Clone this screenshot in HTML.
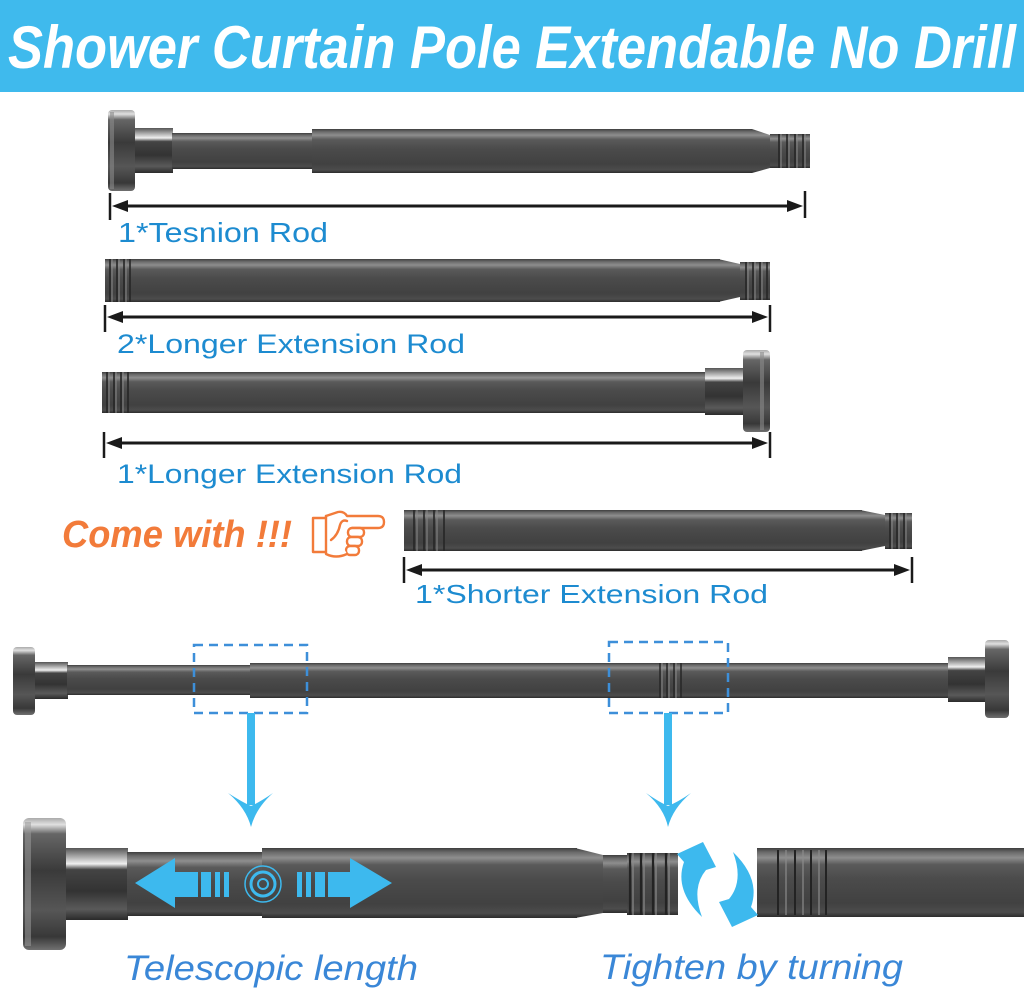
<!DOCTYPE html>
<html><head><meta charset="utf-8">
<style>
html,body{margin:0;padding:0;background:#fff;}
svg{display:block;}
</style></head>
<body>
<svg width="1024" height="991" viewBox="0 0 1024 991" xmlns="http://www.w3.org/2000/svg">
<defs>
<linearGradient id="tube" x1="0" y1="0" x2="0" y2="1">
<stop offset="0" stop-color="#3e3e3e"/>
<stop offset="0.06" stop-color="#6a6a6a"/>
<stop offset="0.14" stop-color="#8e8e8e"/>
<stop offset="0.24" stop-color="#5a5a5a"/>
<stop offset="0.45" stop-color="#4b4b4b"/>
<stop offset="0.8" stop-color="#414141"/>
<stop offset="0.93" stop-color="#4c4c4c"/>
<stop offset="1" stop-color="#2c2c2c"/>
</linearGradient>
<linearGradient id="cap" x1="0" y1="0" x2="0" y2="1">
<stop offset="0" stop-color="#aaa"/>
<stop offset="0.05" stop-color="#e0e0e0"/>
<stop offset="0.12" stop-color="#666"/>
<stop offset="0.4" stop-color="#3a3a3a"/>
<stop offset="0.7" stop-color="#565656"/>
<stop offset="0.9" stop-color="#383838"/>
<stop offset="1" stop-color="#707070"/>
</linearGradient>
<linearGradient id="collar" x1="0" y1="0" x2="0" y2="1">
<stop offset="0" stop-color="#555"/>
<stop offset="0.12" stop-color="#aaa"/>
<stop offset="0.22" stop-color="#efefef"/>
<stop offset="0.3" stop-color="#444"/>
<stop offset="0.6" stop-color="#333"/>
<stop offset="0.85" stop-color="#5a5a5a"/>
<stop offset="1" stop-color="#2a2a2a"/>
</linearGradient>
</defs>

<!-- Header -->
<rect x="0" y="0" width="1024" height="92" fill="#3fbaed"/>
<text x="8" y="68" font-family="Liberation Sans, sans-serif" font-weight="bold" font-style="italic" font-size="60" fill="#fff" textLength="1008" lengthAdjust="spacingAndGlyphs">Shower Curtain Pole Extendable No Drill</text>

<!-- Rod 1: tension rod -->
<rect x="135" y="128" width="38" height="45" fill="url(#collar)"/>
<rect x="172" y="133" width="142" height="36" fill="url(#tube)"/>
<rect x="312" y="129" width="440" height="44" fill="url(#tube)"/>
<polygon points="752,129 770,135 770,168 752,173" fill="url(#tube)"/>
<rect x="770" y="134" width="40" height="34" fill="url(#tube)"/>
<g stroke="#262626" stroke-width="1.6"><line x1="779" y1="134" x2="779" y2="168"/><line x1="787" y1="134" x2="787" y2="168"/><line x1="795" y1="134" x2="795" y2="168"/><line x1="803" y1="134" x2="803" y2="168"/></g>
<g stroke="#8a8a8a" stroke-width="1"><line x1="781" y1="134" x2="781" y2="168"/><line x1="789" y1="134" x2="789" y2="168"/><line x1="797" y1="134" x2="797" y2="168"/><line x1="805" y1="134" x2="805" y2="168"/></g>
<rect x="108" y="110" width="27" height="81" rx="4" fill="url(#cap)"/>
<rect x="110" y="112" width="4" height="77" fill="#8a8a8a" opacity="0.6"/>
<!-- dim 1 -->
<g fill="#1a1a1a" stroke="#1a1a1a">
<line x1="110" y1="193" x2="110" y2="220" stroke-width="2.5"/>
<line x1="805" y1="191" x2="805" y2="218" stroke-width="2.5"/>
<line x1="120" y1="206" x2="795" y2="206" stroke-width="3"/>
<polygon points="112,206 128,200 128,212" stroke="none"/>
<polygon points="803,206 787,200 787,212" stroke="none"/>
</g>
<text x="118" y="242" font-family="Liberation Sans, sans-serif" font-size="28" fill="#1d8bd0" textLength="210" lengthAdjust="spacingAndGlyphs">1*Tesnion Rod</text>

<!-- Rod 2 -->
<rect x="105" y="259" width="615" height="43" fill="url(#tube)"/>
<polygon points="718,259 740,264 740,297 718,302" fill="url(#tube)"/>
<rect x="740" y="262" width="30" height="38" fill="url(#tube)"/>
<g stroke="#262626" stroke-width="1.6"><line x1="110" y1="259" x2="110" y2="302"/><line x1="117" y1="259" x2="117" y2="302"/><line x1="124" y1="259" x2="124" y2="302"/><line x1="130" y1="259" x2="130" y2="302"/>
<line x1="746" y1="262" x2="746" y2="300"/><line x1="753" y1="262" x2="753" y2="300"/><line x1="760" y1="262" x2="760" y2="300"/><line x1="767" y1="262" x2="767" y2="300"/></g>
<g stroke="#8a8a8a" stroke-width="1"><line x1="112" y1="259" x2="112" y2="302"/><line x1="119" y1="259" x2="119" y2="302"/><line x1="126" y1="259" x2="126" y2="302"/>
<line x1="748" y1="262" x2="748" y2="300"/><line x1="755" y1="262" x2="755" y2="300"/><line x1="762" y1="262" x2="762" y2="300"/></g>
<g fill="#1a1a1a" stroke="#1a1a1a">
<line x1="105" y1="305" x2="105" y2="332" stroke-width="2.5"/>
<line x1="770" y1="305" x2="770" y2="332" stroke-width="2.5"/>
<line x1="115" y1="317" x2="760" y2="317" stroke-width="3"/>
<polygon points="107,317 123,311 123,323" stroke="none"/>
<polygon points="768,317 752,311 752,323" stroke="none"/>
</g>
<text x="117" y="353" font-family="Liberation Sans, sans-serif" font-size="27" fill="#1d8bd0" textLength="348" lengthAdjust="spacingAndGlyphs">2*Longer Extension Rod</text>

<!-- Rod 3 -->
<rect x="102" y="372" width="605" height="41" fill="url(#tube)"/>
<g stroke="#262626" stroke-width="1.6"><line x1="107" y1="372" x2="107" y2="413"/><line x1="114" y1="372" x2="114" y2="413"/><line x1="121" y1="372" x2="121" y2="413"/><line x1="128" y1="372" x2="128" y2="413"/></g>
<g stroke="#8a8a8a" stroke-width="1"><line x1="109" y1="372" x2="109" y2="413"/><line x1="116" y1="372" x2="116" y2="413"/><line x1="123" y1="372" x2="123" y2="413"/></g>
<rect x="705" y="368" width="39" height="47" fill="url(#collar)"/>
<rect x="743" y="350" width="27" height="82" rx="4" fill="url(#cap)"/>
<rect x="760" y="352" width="4" height="78" fill="#8a8a8a" opacity="0.6"/>
<g fill="#1a1a1a" stroke="#1a1a1a">
<line x1="104" y1="432" x2="104" y2="458" stroke-width="2.5"/>
<line x1="770" y1="432" x2="770" y2="458" stroke-width="2.5"/>
<line x1="114" y1="443" x2="760" y2="443" stroke-width="3"/>
<polygon points="106,443 122,437 122,449" stroke="none"/>
<polygon points="768,443 752,437 752,449" stroke="none"/>
</g>
<text x="117" y="483" font-family="Liberation Sans, sans-serif" font-size="27" fill="#1d8bd0" textLength="345" lengthAdjust="spacingAndGlyphs">1*Longer Extension Rod</text>

<!-- Come with -->
<text x="62" y="547" font-family="Liberation Sans, sans-serif" font-weight="bold" font-style="italic" font-size="38" fill="#f27b3a" textLength="230" lengthAdjust="spacingAndGlyphs">Come with !!!</text>
<g fill="#fff" stroke="#f27b3a" stroke-width="2.4" stroke-linejoin="round" stroke-linecap="round">
<path d="M326,518 L313,518 L313,552 L326,552"/>
<path d="M326,516 L338,512 Q344,511 347,516 L378,516 Q384,516 384,522 Q384,528 378,528 L352,528"/>
<rect x="348" y="528" width="16" height="9" rx="4"/>
<rect x="347" y="537" width="15" height="9" rx="4"/>
<rect x="346" y="546" width="13" height="9" rx="4"/>
<path d="M326,516 L326,554 Q336,559 347,554"/>
<path d="M331,540 Q338,535 340,525 Q342,519 347,521"/>
</g>

<!-- Rod 4 -->
<rect x="404" y="510" width="458" height="41" fill="url(#tube)"/>
<polygon points="860,510 885,515 885,546 860,551" fill="url(#tube)"/>
<rect x="885" y="513" width="27" height="36" fill="url(#tube)"/>
<g stroke="#262626" stroke-width="1.6"><line x1="414" y1="510" x2="414" y2="551"/><line x1="424" y1="510" x2="424" y2="551"/><line x1="434" y1="510" x2="434" y2="551"/><line x1="444" y1="510" x2="444" y2="551"/>
<line x1="890" y1="513" x2="890" y2="549"/><line x1="897" y1="513" x2="897" y2="549"/><line x1="904" y1="513" x2="904" y2="549"/></g>
<g stroke="#8a8a8a" stroke-width="1"><line x1="417" y1="510" x2="417" y2="551"/><line x1="427" y1="510" x2="427" y2="551"/><line x1="437" y1="510" x2="437" y2="551"/>
<line x1="892" y1="513" x2="892" y2="549"/><line x1="899" y1="513" x2="899" y2="549"/><line x1="906" y1="513" x2="906" y2="549"/></g>
<g fill="#1a1a1a" stroke="#1a1a1a">
<line x1="404" y1="557" x2="404" y2="583" stroke-width="2.5"/>
<line x1="912" y1="557" x2="912" y2="583" stroke-width="2.5"/>
<line x1="414" y1="570" x2="902" y2="570" stroke-width="3"/>
<polygon points="406,570 422,564 422,576" stroke="none"/>
<polygon points="910,570 894,564 894,576" stroke="none"/>
</g>
<text x="415" y="603" font-family="Liberation Sans, sans-serif" font-size="26" fill="#1d8bd0" textLength="353" lengthAdjust="spacingAndGlyphs">1*Shorter Extension Rod</text>

<!-- Assembled rod -->
<rect x="35" y="662" width="33" height="37" fill="url(#collar)"/>
<rect x="67" y="665" width="185" height="30" fill="url(#tube)"/>
<rect x="250" y="663" width="700" height="35" fill="url(#tube)"/>
<g stroke="#262626" stroke-width="1.5"><line x1="660" y1="663" x2="660" y2="698"/><line x1="667" y1="663" x2="667" y2="698"/><line x1="674" y1="663" x2="674" y2="698"/><line x1="681" y1="663" x2="681" y2="698"/></g>
<g stroke="#8a8a8a" stroke-width="1"><line x1="662" y1="663" x2="662" y2="698"/><line x1="669" y1="663" x2="669" y2="698"/><line x1="676" y1="663" x2="676" y2="698"/></g>
<rect x="13" y="647" width="22" height="68" rx="4" fill="url(#cap)"/>
<rect x="948" y="657" width="38" height="45" fill="url(#collar)"/>
<rect x="985" y="640" width="24" height="78" rx="4" fill="url(#cap)"/>
<!-- dashed boxes -->
<rect x="194" y="645" width="113" height="68" fill="none" stroke="#3d8fd9" stroke-width="2.5" stroke-dasharray="9 6"/>
<rect x="609" y="642" width="119" height="71" fill="none" stroke="#3d8fd9" stroke-width="2.5" stroke-dasharray="9 6"/>
<!-- down arrows -->
<g fill="#3db9ee">
<rect x="247" y="713" width="8" height="92"/>
<path d="M228,793 Q246,808 251,827 Q256,808 273,793 Q260,802 251,806 Q242,802 228,793 Z"/>
<rect x="664" y="713" width="8" height="92"/>
<path d="M646,793 Q664,808 668,827 Q673,808 691,793 Q678,802 668,806 Q659,802 646,793 Z"/>
</g>

<!-- Bottom detail left -->
<rect x="65" y="848" width="63" height="72" fill="url(#collar)"/>
<rect x="127" y="852" width="137" height="64" fill="url(#tube)"/>
<rect x="262" y="848" width="315" height="70" fill="url(#tube)"/>
<polygon points="575,848 603,855 603,913 575,918" fill="url(#tube)"/>
<rect x="603" y="855" width="26" height="58" fill="url(#tube)"/>
<rect x="627" y="853" width="51" height="62" fill="url(#tube)"/>
<g stroke="#232323" stroke-width="2.2"><line x1="630" y1="853" x2="630" y2="915"/><line x1="641" y1="853" x2="641" y2="915"/><line x1="653" y1="853" x2="653" y2="915"/><line x1="666" y1="853" x2="666" y2="915"/></g>
<g stroke="#8c8c8c" stroke-width="1.2"><line x1="633" y1="853" x2="633" y2="915"/><line x1="644" y1="853" x2="644" y2="915"/><line x1="656" y1="853" x2="656" y2="915"/><line x1="669" y1="853" x2="669" y2="915"/></g>
<rect x="23" y="818" width="43" height="132" rx="6" fill="url(#cap)"/>
<rect x="25" y="822" width="6" height="124" fill="#9a9a9a" opacity="0.55"/>

<!-- Bottom detail right -->
<rect x="757" y="848" width="267" height="69" fill="url(#tube)"/>
<g stroke="#232323" stroke-width="2"><line x1="778" y1="850" x2="778" y2="915"/><line x1="795" y1="850" x2="795" y2="915"/><line x1="811" y1="850" x2="811" y2="915"/><line x1="826" y1="850" x2="826" y2="915"/></g>
<g stroke="#8c8c8c" stroke-width="1.2"><line x1="786" y1="850" x2="786" y2="915"/><line x1="803" y1="850" x2="803" y2="915"/><line x1="819" y1="850" x2="819" y2="915"/></g>

<!-- double arrow -->
<g fill="#3db9ee">
<polygon points="135,883 175,858 175,872 198,872 198,897 175,897 175,908"/>
<rect x="201" y="872" width="10" height="25"/>
<rect x="215" y="872" width="5" height="25"/>
<rect x="224" y="872" width="5" height="25"/>
<rect x="297" y="872" width="5" height="25"/>
<rect x="306" y="872" width="5" height="25"/>
<rect x="315" y="872" width="10" height="25"/>
<polygon points="392,883 350,858 350,872 328,872 328,897 350,897 350,908"/>
</g>
<g fill="none" stroke="#3db9ee">
<circle cx="263" cy="884" r="18" stroke-width="1.5"/>
<circle cx="263" cy="884" r="12" stroke-width="3"/>
<circle cx="263" cy="884" r="5" stroke-width="2"/>
</g>

<!-- rotation arrows -->
<g fill="#3db9ee">
<path d="M702,917 Q674,890 684,862 L677,854 L703,842 L716,867 L706,870 Q691,888 702,917 Z"/>
<path d="M702,917 Q674,890 684,862 L677,854 L703,842 L716,867 L706,870 Q691,888 702,917 Z" transform="rotate(180 717.5 884.5)"/>
</g>

<!-- bottom labels -->
<text x="124" y="980" font-family="Liberation Sans, sans-serif" font-style="italic" font-size="35" fill="#3a87d7" textLength="294" lengthAdjust="spacingAndGlyphs">Telescopic length</text>
<text x="600" y="979" font-family="Liberation Sans, sans-serif" font-style="italic" font-size="35" fill="#3a87d7" textLength="303" lengthAdjust="spacingAndGlyphs">Tighten by turning</text>
</svg>
</body></html>
